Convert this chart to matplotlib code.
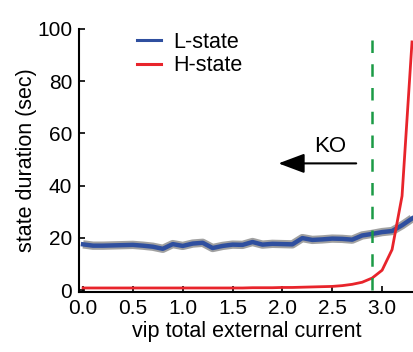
import numpy as np
import matplotlib
matplotlib.use("Agg")
import matplotlib.pyplot as plt

plt.rcParams['font.family'] = ['Liberation Sans', 'DejaVu Sans']

# vip external current sweep and mean state durations (sec)
current = np.round(np.arange(0, 3.31, 0.1), 1)
l_state = [17.5, 17.0, 17.0, 17.1, 17.2, 17.3, 17.0, 16.6, 15.8, 17.6,
           16.9, 17.8, 18.1, 16.1, 16.9, 17.4, 17.3, 18.4, 17.4, 17.7,
           17.6, 17.5, 19.9, 19.2, 19.4, 19.7, 19.6, 19.3, 20.9, 21.5,
           22.2, 22.6, 24.8, 27.4]
h_state = [0.8, 0.8, 0.8, 0.8, 0.8, 0.8, 0.8, 0.8, 0.8, 0.8,
           0.8, 0.8, 0.8, 0.8, 0.8, 0.8, 0.8, 0.9, 0.9, 0.9,
           1.0, 1.0, 1.1, 1.2, 1.3, 1.4, 1.7, 2.2, 3.0, 4.6,
           7.6, 15.5, 36.0, 95.0]
ko_current = 2.9

fig = plt.figure(figsize=(4.14, 3.52), dpi=100)
ax = fig.add_axes([0.191, 0.170, 0.809, 0.748])

# L-state with a grey halo for the spread
ax.plot(current, l_state, color='#8a8a8a', lw=6, alpha=0.8, solid_capstyle='butt')
ax.plot(current, l_state, color='#2f4f9f', lw=3.2, label='L-state')
ax.plot(current, h_state, color='#e8242b', lw=2.0, label='H-state')

ax.plot([ko_current, ko_current], [0, 100], color='#1b9a45', lw=1.8,
        dashes=(5, 4.5))

ax.annotate('', xy=(1.96, 48.5), xytext=(2.74, 48.5),
            arrowprops=dict(arrowstyle='-|>,head_length=1.6,head_width=0.6',
                            color='black', lw=1.5, shrinkA=0, shrinkB=0))
ax.text(2.48, 55.0, 'KO', fontsize=16, ha='center', va='center')

ax.set_xlim(-0.04, 3.32)
ax.set_ylim(-0.8, 100)
ax.set_xticks([0.0, 0.5, 1.0, 1.5, 2.0, 2.5, 3.0])
ax.set_xticklabels(['0.0', '0.5', '1.0', '1.5', '2.0', '2.5', '3.0'])
ax.set_yticks([0, 20, 40, 60, 80, 100])
ax.tick_params(direction='in', length=4, width=1.2, labelsize=15, pad=5)
for side in ['top', 'right']:
    ax.spines[side].set_visible(False)
for side in ['left', 'bottom']:
    ax.spines[side].set_linewidth(1.5)

ax.set_xlabel('vip total external current', fontsize=15.5, labelpad=2)
ax.set_ylabel('state duration (sec)', fontsize=15.5, labelpad=0)

leg = ax.legend(loc='upper left', bbox_to_anchor=(0.173, 0.988), frameon=False,
                fontsize=15.5, handlelength=1.1, handletextpad=0.56,
                labelspacing=0.1, borderpad=0, borderaxespad=0)
for line in leg.get_lines():
    line.set_linewidth(2.2)

fig.savefig('out.png', dpi=100)
